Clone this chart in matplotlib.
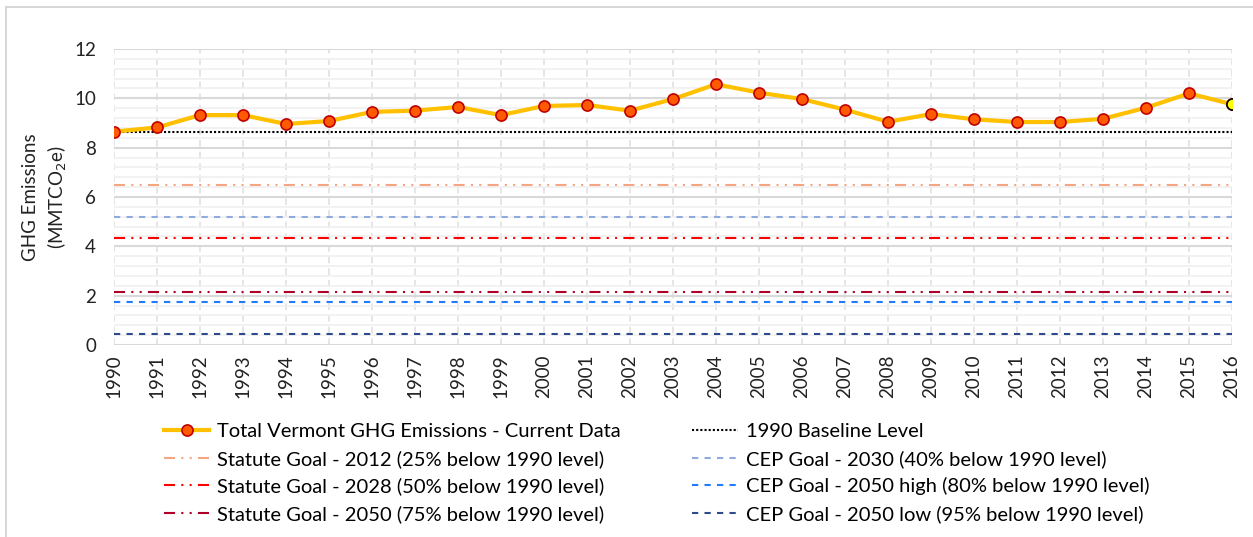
import matplotlib
matplotlib.use("Agg")
import matplotlib.pyplot as plt
from matplotlib.patches import Rectangle
from matplotlib.ticker import MultipleLocator

plt.rcParams['font.family'] = ['Lato', 'DejaVu Sans']

years = list(range(1990, 2017))
emissions = [8.65, 8.82, 9.32, 9.32, 8.96, 9.08, 9.45, 9.50, 9.65, 9.32,
             9.69, 9.73, 9.50, 9.97, 10.57, 10.23, 9.97, 9.54, 9.05, 9.36,
             9.15, 9.04, 9.04, 9.17, 9.62, 10.20, 9.76]

baseline = 8.65
goal_labels = [
    "Statute Goal - 2012 (25% below 1990 level)",
    "Statute Goal - 2028 (50% below 1990 level)",
    "Statute Goal - 2050 (75% below 1990 level)",
    "CEP Goal - 2030 (40% below 1990 level)",
    "CEP Goal - 2050 high (80% below 1990 level)",
    "CEP Goal - 2050 low (95% below 1990 level)",
]
goal_values = [6.49, 4.33, 2.16, 5.19, 1.73, 0.43]
goal_colors = ['#F4A582', '#FF0000', '#B0002A', '#8FAADC', '#1F7BFF', '#2F4A8A']

DASHDOTDOT = (0, (5.3, 3, 1, 3, 1, 3))
DASHED = (0, (3, 3))
goal_styles = [DASHDOTDOT, DASHDOTDOT, DASHDOTDOT, DASHED, DASHED, DASHED]

fig = plt.figure(figsize=(12.53, 5.37), dpi=100)
fig.patches.append(Rectangle((6 / 1253, -0.1), 1.2, (537 - 7) / 537 + 0.1,
                             transform=fig.transFigure, fill=False,
                             edgecolor='#D0D0D0', linewidth=1.2))
ax = fig.add_axes([114 / 1253, (537 - 345) / 537, 1118 / 1253, 296 / 537])

handles = {}
x0, x1 = years[0], years[-1]
for lab, val, col, ls in zip(goal_labels, goal_values, goal_colors, goal_styles):
    h, = ax.plot([x0, x1], [val, val], color=col, linestyle=ls, linewidth=1.5, label=lab)
    handles[lab] = h
hb, = ax.plot([x0, x1], [baseline, baseline], color='black', linestyle=(0, (1, 1)),
              linewidth=1.5, label="1990 Baseline Level")

ht, = ax.plot(years, emissions, color='#FFC000', linewidth=3, marker='o', markersize=8,
              markerfacecolor='#FF5A00', markeredgecolor='#C00000', markeredgewidth=1.2,
              label="Total Vermont GHG Emissions - Current Data", zorder=5)
# latest year highlighted
ax.plot(years[-1:], emissions[-1:], linestyle='none', marker='o', markersize=8,
        markerfacecolor='#FFFF00', markeredgecolor='black', markeredgewidth=1.2, zorder=6)

ax.set_xlim(x0, x1)
ax.set_ylim(0, 12)
ax.set_xticks(years)
ax.set_xticklabels([str(y) for y in years], rotation=90, fontsize=13.5, color='#222222')
ax.yaxis.set_major_locator(MultipleLocator(2))
ax.yaxis.set_minor_locator(MultipleLocator(0.4))
ax.tick_params(axis='y', labelsize=13.5, colors='#222222', length=0, pad=13, which='both')
ax.tick_params(axis='x', length=0, pad=7)

ax.grid(True, axis='y', which='major', color='#D9D9D9', linewidth=1.5)
ax.grid(True, axis='y', which='minor', color='#F0F0F0', linewidth=1.2)
ax.grid(True, axis='x', which='major', color='#E0E0E0', linewidth=1.2, linestyle=(0, (4, 3)))
ax.set_axisbelow(True)
for s in ax.spines.values():
    s.set_visible(False)

ax.set_ylabel("GHG Emissions\n(MMTCO$_2$e)", fontsize=13.5, color='#222222', labelpad=4,
              linespacing=1.35)

order = [ht, handles[goal_labels[0]], handles[goal_labels[1]], handles[goal_labels[2]],
         hb, handles[goal_labels[3]], handles[goal_labels[4]], handles[goal_labels[5]]]
fig.legend(handles=order, labels=[h.get_label() for h in order], ncol=2,
           loc='upper left', bbox_to_anchor=(164 / 1253, 1 - 423 / 537),
           frameon=False, fontsize=14.5, handlelength=2.25, handletextpad=0.4,
           columnspacing=3.55, labelspacing=0.48, borderaxespad=0, borderpad=0)

fig.savefig("out.png", dpi=100)
